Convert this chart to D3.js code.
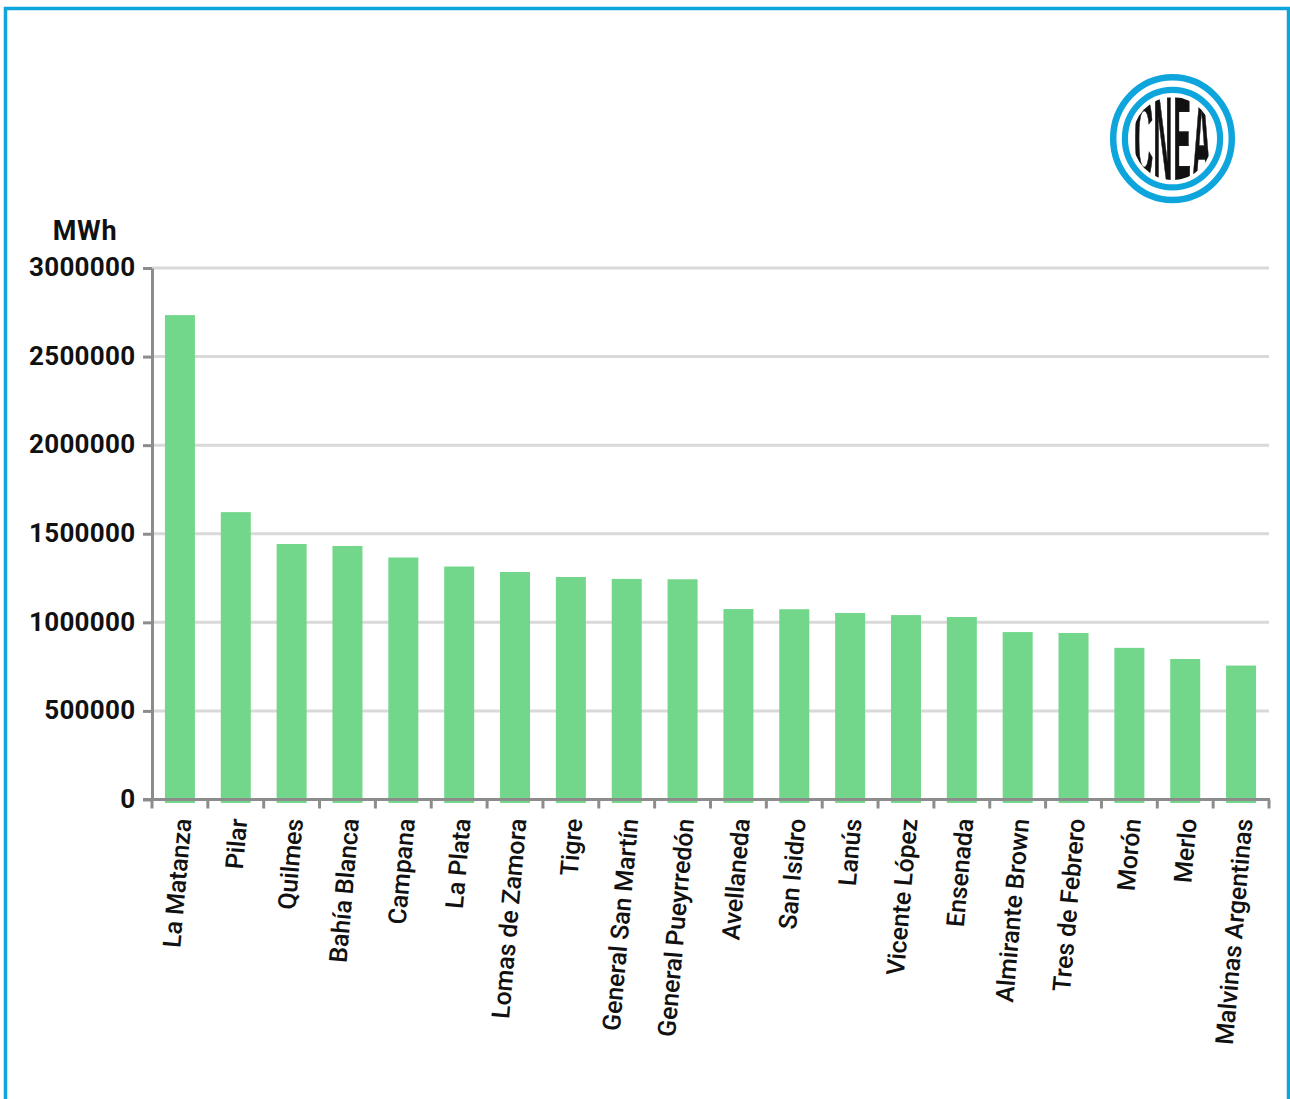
<!DOCTYPE html>
<html><head><meta charset="utf-8">
<script src="https://cdn.jsdelivr.net/npm/d3@7/dist/d3.min.js"></script>
<style>html,body{margin:0;padding:0;background:#fff}svg{display:block}text{font-family:Roboto,sans-serif;fill:#111}</style>
</head><body><svg id="c" width="1290" height="1099"></svg>
<script>
const categories=["La Matanza","Pilar","Quilmes","Bahía Blanca","Campana","La Plata","Lomas de Zamora","Tigre","General San Martín","General Pueyrredón","Avellaneda","San Isidro","Lanús","Vicente López","Ensenada","Almirante Brown","Tres de Febrero","Morón","Merlo","Malvinas Argentinas"];
const values=[2734000,1622000,1442000,1431000,1366000,1315000,1284000,1256000,1245000,1243000,1075000,1074000,1053000,1041000,1030000,945000,940000,856000,793000,756000];
const yTicks=[0,500000,1000000,1500000,2000000,2500000,3000000];
const unitLabel="MWh";
const logoLetters=["C","N","E","A"];

const svg=d3.select("#c");
const L=152,R=1269,T=268,B=799.5;
const x=d3.scaleBand().domain(categories).range([L,R]).paddingInner(0.4629).paddingOuter(0.2315);
const edge=d3.scaleBand().domain(categories).range([L,R]);
const y=d3.scaleLinear().domain([0,3000000]).range([B,T]);

// frame
svg.append("path").attr("d","M5.5,1099V8.5H1288.5V1099").attr("fill","none").attr("stroke","#0ea5dc").attr("stroke-width",3.5);

// grid
svg.append("g").selectAll("line").data(yTicks.filter(d=>d>0)).join("line")
 .attr("x1",L).attr("x2",R).attr("y1",d=>y(d)).attr("y2",d=>y(d))
 .attr("stroke","#d9d9d9").attr("stroke-width",3);

// bars
svg.append("g").selectAll("rect").data(values).join("rect")
 .attr("x",(d,i)=>x(categories[i])).attr("width",x.bandwidth())
 .attr("y",d=>y(d)).attr("height",d=>y(0)-y(d)+3.5)
 .attr("fill","#72d78a");

// y axis
const ya=svg.append("g").attr("transform",`translate(${L},0)`)
 .call(d3.axisLeft(y).tickValues(yTicks).tickFormat(d3.format("d")).tickSize(9).tickPadding(8).tickSizeOuter(0));
ya.select(".domain").attr("stroke","#8c8c8c").attr("stroke-width",3);
ya.selectAll(".tick line").attr("stroke","#8c8c8c").attr("stroke-width",3);
ya.selectAll("text").attr("font-size",26).attr("font-weight",700).attr("letter-spacing",0.3).style("font-family","Roboto").attr("fill","#111").attr("dy","0.3em").attr("x",-16.5);

// x axis
const xa=svg.append("g").attr("transform",`translate(0,${B})`);
xa.append("line").attr("x1",L-9).attr("x2",R+1).attr("y1",0).attr("y2",0).attr("stroke","#8c8c8c").attr("stroke-width",3);
xa.selectAll("line.t").data(categories.concat(["__end"])).join("line").attr("class","t")
 .attr("x1",(d,i)=>i<categories.length?edge(d):R).attr("x2",(d,i)=>i<categories.length?edge(d):R)
 .attr("y1",0).attr("y2",9).attr("stroke","#8c8c8c").attr("stroke-width",3);
xa.selectAll("text").data(categories).join("text")
 .attr("transform",d=>`translate(${x(d)+x.bandwidth()/2+11.5},20) rotate(-85)`)
 .attr("text-anchor","end").attr("font-size",25).attr("font-weight",500).attr("letter-spacing",-0.1)
 .text(d=>d);

// unit
svg.append("text").attr("x",85).attr("y",239.5).attr("text-anchor","middle").attr("font-size",27).attr("font-weight",700).attr("letter-spacing",0.7).text(unitLabel);

// logo
const logo=svg.append("g").attr("transform","translate(1172.5,138.6)");
logo.append("ellipse").attr("rx",59.3).attr("ry",61.3).attr("fill","none").attr("stroke","#0ea5dc").attr("stroke-width",6.5);
logo.append("ellipse").attr("rx",47.6).attr("ry",48.8).attr("fill","none").attr("stroke","#0ea5dc").attr("stroke-width",6.2);
svg.append("clipPath").attr("id","lc").append("ellipse").attr("rx",40).attr("ry",41.5);
const lg=logo.append("g").attr("clip-path","url(#lc)");
const lx=d3.scalePoint().domain(logoLetters).range([-29,29]);
lg.selectAll("text").data(logoLetters).join("text")
 .attr("transform",d=>`translate(${lx(d)},41) scale(0.72,3.3)`)
 .attr("text-anchor","middle").attr("font-size",36).attr("font-weight",700)
 .style("font-family","'Liberation Sans'").attr("fill","#151a18")
 .attr("stroke","#151a18").attr("stroke-width",1.2).attr("vector-effect","non-scaling-stroke").text(d=>d);
</script></body></html>
